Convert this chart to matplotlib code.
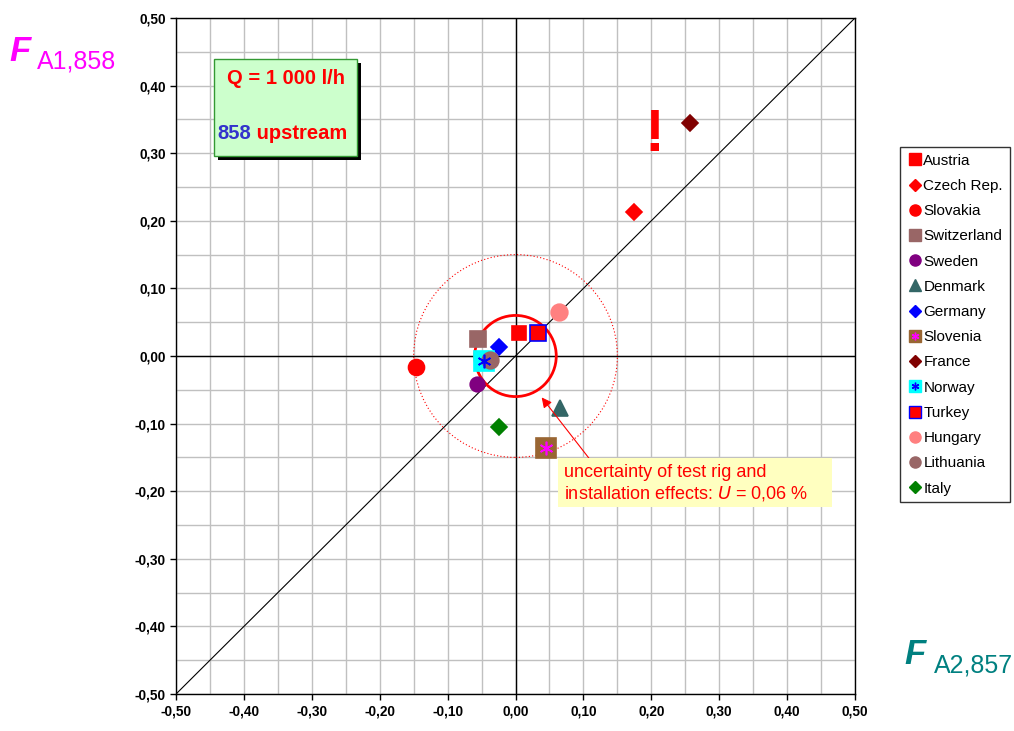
import matplotlib
matplotlib.use("Agg")
import matplotlib.pyplot as plt
from matplotlib.patches import Rectangle, Circle
from matplotlib.ticker import MultipleLocator, FuncFormatter
from matplotlib.lines import Line2D

plt.rcParams['font.family'] = ['Liberation Sans', 'DejaVu Sans']
plt.rcParams['axes.unicode_minus'] = False

countries = ["Austria", "Czech Rep.", "Slovakia", "Switzerland", "Sweden", "Denmark",
             "Germany", "Slovenia", "France", "Norway", "Turkey", "Hungary",
             "Lithuania", "Italy"]
x_vals = [0.005, 0.175, -0.147, -0.055, -0.056, 0.066, -0.025, 0.045, 0.257, -0.047,
          0.033, 0.064, -0.038, -0.025]
y_vals = [0.034, 0.213, -0.016, 0.025, -0.041, -0.077, 0.014, -0.136, 0.345, -0.007,
          0.034, 0.065, -0.006, -0.105]

styles = {
    "Austria":     dict(marker='s', fc='#FF0000', ec='#FF0000', ms=9.5),
    "Czech Rep.":  dict(marker='D', fc='#FF0000', ec='#FF0000', ms=8),
    "Slovakia":    dict(marker='o', fc='#FF0000', ec='#FF0000', ms=11.5),
    "Switzerland": dict(marker='s', fc='#996666', ec='#996666', ms=11.5),
    "Sweden":      dict(marker='o', fc='#800080', ec='#800080', ms=10.5),
    "Denmark":     dict(marker='^', fc='#336666', ec='#336666', ms=12),
    "Germany":     dict(marker='D', fc='#0000FF', ec='#0000FF', ms=8),
    "Slovenia":    dict(marker='s', fc='#996633', ec='#996633', ms=14, over='#FF00FF'),
    "France":      dict(marker='D', fc='#800000', ec='#800000', ms=8.5),
    "Norway":      dict(marker='s', fc='#00FFFF', ec='#00FFFF', ms=14, over='#0000FF'),
    "Turkey":      dict(marker='s', fc='#FF0000', ec='#0000FF', ms=12),
    "Hungary":     dict(marker='o', fc='#FF8080', ec='#FF8080', ms=12),
    "Lithuania":   dict(marker='o', fc='#996666', ec='#996666', ms=12),
    "Italy":       dict(marker='D', fc='#008000', ec='#008000', ms=8.5),
}

fig = plt.figure(figsize=(10.14, 7.31), dpi=100)
ax = fig.add_axes([0.1736, 0.0506, 0.6696, 0.9248])
ax.set_xlim(-0.5, 0.5)
ax.set_ylim(-0.5, 0.5)
ax.xaxis.set_major_locator(MultipleLocator(0.1))
ax.yaxis.set_major_locator(MultipleLocator(0.1))
ax.xaxis.set_minor_locator(MultipleLocator(0.05))
ax.yaxis.set_minor_locator(MultipleLocator(0.05))
fmt = FuncFormatter(lambda v, p: f"{v:.2f}".replace('.', ','))
ax.xaxis.set_major_formatter(fmt)
ax.yaxis.set_major_formatter(fmt)
ax.grid(True, which='both', color='#C0C0C0', lw=1.0, zorder=0)
ax.set_axisbelow(True)
for lab in ax.get_xticklabels() + ax.get_yticklabels():
    lab.set_fontweight('bold')
    lab.set_fontsize(9.8)
ax.tick_params(which='major', length=4, width=1, direction='out')
ax.tick_params(which='minor', length=0)
for s in ax.spines.values():
    s.set_color('black')
    s.set_linewidth(1.0)

ax.axhline(0, color='black', lw=1.0, zorder=1)
ax.axvline(0, color='black', lw=1.0, zorder=1)
lims = ax.get_xlim()
ax.plot(lims, lims, color='black', lw=0.8, zorder=1)

ax.add_patch(Circle((0, 0), 0.06, fill=False, ec='#FF0000', lw=2.0, zorder=2))
ax.add_patch(Circle((0, 0), 0.15, fill=False, ec='#FF0000', lw=0.8, ls=(0, (1, 2)), zorder=2))

handles = []
for c, x, y in zip(countries, x_vals, y_vals):
    st = styles[c]
    ax.plot([x], [y], ls='none', marker=st['marker'], ms=st['ms'], mfc=st['fc'],
            mec=st['ec'], mew=1.2, zorder=4)
    h = Line2D([], [], ls='none', marker=st['marker'], ms=8 if st['marker'] != 'D' else 6,
               mfc=st['fc'], mec=st['ec'], mew=1.0)
    if 'over' in st:
        ax.plot([x], [y], ls='none', marker=(6, 2, 0), ms=st['ms'] * 0.7,
                mec=st['over'], mew=1.2, zorder=5)
        h2 = Line2D([], [], ls='none', marker=(6, 2, 0), ms=5.5, mec=st['over'], mew=1.0)
        handles.append((h, h2))
    else:
        handles.append(h)

leg = ax.legend(handles, countries, loc='upper left', bbox_to_anchor=(1.067, 0.8095),
                frameon=True, fancybox=False, edgecolor='black', fontsize=11,
                handletextpad=0.05, handlelength=1.0, labelspacing=0.735,
                borderpad=0.45, borderaxespad=0)
leg.get_frame().set_linewidth(1.0)

# arrow
ax.annotate('', xy=(0.036, -0.058), xytext=(0.115, -0.16),
            arrowprops=dict(arrowstyle='-|>', color='#FF0000', lw=0.8,
                            mutation_scale=15), zorder=6)

# yellow text box
ax.add_patch(Rectangle((0.0626, -0.223), 0.404, 0.072, fc='#FFFFC0', ec='none', zorder=6))
ax.text(0.071, -0.172, 'uncertainty of test rig and', color='#FF0000', fontsize=13,
        va='center', ha='left', zorder=7)
ax.text(0.071, -0.204, 'installation effects: $\\mathit{U}$ = 0,06 %', color='#FF0000',
        fontsize=13, va='center', ha='left', zorder=7)

# green box with shadow
ax.add_patch(Rectangle((-0.438, 0.290), 0.211, 0.144, fc='black', ec='none', zorder=6))
ax.add_patch(Rectangle((-0.444, 0.296), 0.211, 0.144, fc='#CCFFCC', ec='#339933', lw=1.0, zorder=7))
ax.text(-0.338, 0.410, 'Q = 1 000 l/h', color='#FF0000', fontsize=14.5, fontweight='bold',
        ha='center', va='center', zorder=8)
t1 = ax.text(-0.439, 0.329, '858', color='#3333CC', fontsize=14.5, fontweight='bold',
             ha='left', va='center', zorder=8)
fig.canvas.draw()
ax.annotate(' upstream', xycoords=t1, xy=(1, 0.5), va='center', ha='left',
            color='#FF0000', fontsize=14.5, fontweight='bold', zorder=8)

# exclamation mark
ax.text(0.204, 0.326, '!', color='#FF0000', fontsize=43, fontweight='bold',
        ha='center', va='center', zorder=5)

# axis labels
fig.text(0.009, 0.917, 'F', color='#FF00FF', fontsize=25, fontweight='bold',
         style='italic', ha='left', va='baseline')
fig.text(0.036, 0.906, 'A1,858', color='#FF00FF', fontsize=18, ha='left', va='baseline')
fig.text(0.892, 0.091, 'F', color='#008080', fontsize=25, fontweight='bold',
         style='italic', ha='left', va='baseline')
fig.text(0.921, 0.080, 'A2,857', color='#008080', fontsize=18, ha='left', va='baseline')

fig.savefig('out.png', dpi=100)
